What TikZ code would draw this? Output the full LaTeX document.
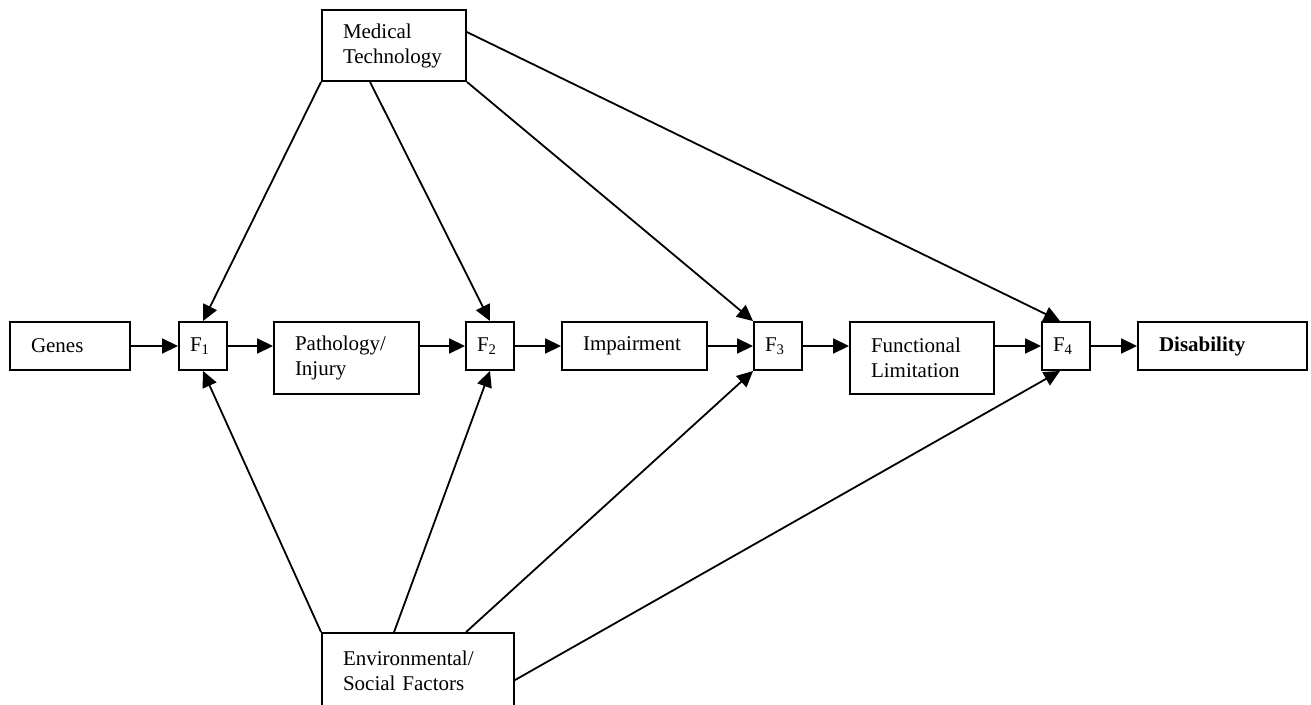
\documentclass[tikz,border=0pt]{standalone}
\usepackage{fontspec}
\setmainfont{Liberation Serif}
\usetikzlibrary{arrows.meta,calc}
\begin{document}
\begin{tikzpicture}[x=1pt,y=-1pt,
  box/.style={draw, line width=1.9pt, inner ysep=0pt, inner xsep=21pt, align=left,
    font=\fontsize{21}{25}\selectfont},
  fbox/.style={draw, line width=1.9pt, inner ysep=0pt, inner xsep=11pt, align=left,
    minimum height=48pt, text width=26pt, font=\fontsize{21}{25}\selectfont},
  conn/.style={line width=1.8pt, -{Triangle[length=16pt,width=15pt]}}]
\useasboundingbox (0,0) rectangle (1311,704);
\node[box, text width=78pt, minimum height=48pt] (genes) at (70,346) {Genes};
\node[fbox] (f1) at (203,346) {F\textsubscript{1}};
\node[box, text width=103pt, minimum height=72pt] (path) at (346.5,358) {Pathology/\\Injury};
\node[fbox] (f2) at (490,346) {F\textsubscript{2}};
\node[box, text width=103pt, minimum height=48pt] (imp) at (634.5,346) {Impairment};
\node[fbox] (f3) at (778,346) {F\textsubscript{3}};
\node[box, text width=102pt, minimum height=72pt] (func) at (922,358) {Functional\\Limitation};
\node[fbox] (f4) at (1066,346) {F\textsubscript{4}};
\node[box, text width=127pt, minimum height=48pt] (dis) at (1222.5,346) {\textbf{Disability}};
\node[box, text width=102pt, minimum height=71pt] (mt) at (394,45.5) {Medical\\Technology};
\node[box, text width=150pt, minimum height=75pt] (env) at (418,670.5) {Environmental/\\Social Factors};
% horizontal chain
\draw[conn] (genes.east) -- (f1.west);
\draw[conn] (f1.east) -- (f1.east -| path.west);
\draw[conn] (f1.east -| path.east) -- (f2.west);
\draw[conn] (f2.east) -- (imp.west);
\draw[conn] (imp.east) -- (f3.west);
\draw[conn] (f3.east) -- (f3.east -| func.west);
\draw[conn] (f3.east -| func.east) -- (f4.west);
\draw[conn] (f4.east) -- (dis.west);
% medical technology
\draw[conn] (mt.south west) -- (f1.north);
\draw[conn] ($(mt.south west)+(49,0)$) -- (f2.north);
\draw[conn] (mt.south east) -- (f3.north west);
\draw[conn] ($(mt.north east)+(0,23)$) -- ($(f4.north)+(-6,0)$);
% environmental / social factors
\draw[conn] (env.north west) -- (f1.south);
\draw[conn] ($(env.north west)+(73,0)$) -- (f2.south);
\draw[conn] ($(env.north west)+(145,0)$) -- (f3.south west);
\draw[conn] ($(env.north east)+(0,48)$) -- ($(f4.south)+(-6,0)$);
\end{tikzpicture}
\end{document}
